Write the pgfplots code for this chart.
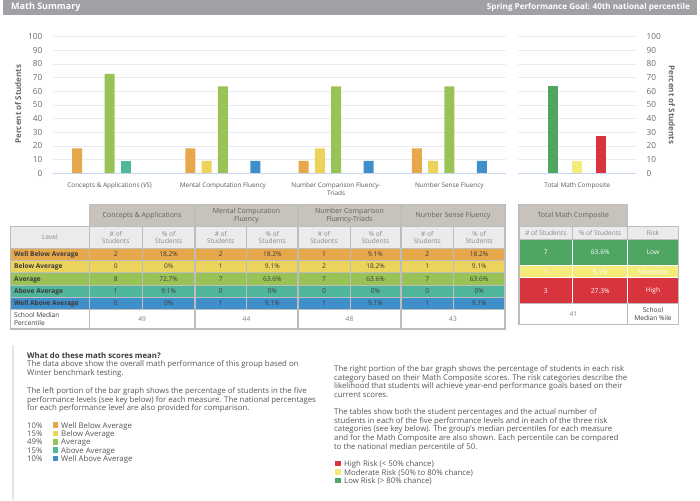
\documentclass[border=0pt]{standalone}
\usepackage{pgfplots}
\pgfplotsset{compat=1.18}
\usepackage{fontspec}
\setmainfont{Open Sans}
\definecolor{hdr}{HTML}{A0A1A4}
\definecolor{tick}{HTML}{6A6A6A}
\definecolor{gridc}{HTML}{E8EBF0}
\definecolor{zeroc}{HTML}{C6D6EC}
\definecolor{cOr}{HTML}{E6A84B}
\definecolor{cYe}{HTML}{EBD35C}
\definecolor{cGr}{HTML}{99C356}
\definecolor{cTe}{HTML}{4FB69C}
\definecolor{cBl}{HTML}{3F8FCA}
\definecolor{rG}{HTML}{4EA662}
\definecolor{rY}{HTML}{F5EB7A}
\definecolor{rR}{HTML}{D8343D}
\definecolor{thd}{HTML}{C8C2BC}
\definecolor{shd}{HTML}{EBEBEE}
\definecolor{bord}{HTML}{BDBDBD}
\definecolor{dk}{HTML}{3A3A3A}
\definecolor{body}{HTML}{555555}
\definecolor{sub}{HTML}{8A8A8A}
\begin{document}
\begin{tikzpicture}
\begin{scope}[x=1pt,y=1pt]
\useasboundingbox (0,0) rectangle (700,-500);
% ---------- header bar
\fill[hdr] (3,0) rectangle (697,-15);
\node[anchor=west, text=white, font=\fontsize{9}{9}\selectfont\bfseries, inner sep=0pt] at (11,-7.5) {Math Summary};
\node[anchor=east, text=white, font=\fontsize{8.1}{9}\selectfont\bfseries, inner sep=0pt] at (690,-7.5) {Spring Performance Goal: 40th national percentile};
\end{scope}
% ---------- left chart
\begin{axis}[
  at={(53pt,-173.3pt)}, anchor=south west, scale only axis,
  width=453pt, height=136.6pt,
  xmin=-0.5, xmax=3.5, ymin=0, ymax=100,
  axis line style={draw=none}, tick style={draw=none},
  ytick={0,10,...,100}, ymajorgrids, grid style={color=gridc, line width=0.7pt},
  xtick={0,1,2,3},
  xticklabels={{Concepts \& Applications (\textit{VS})},{Mental Computation Fluency},{Number Comparison Fluency-\\Triads},{Number Sense Fluency}},
  xticklabel style={font=\fontsize{6.4}{7.4}\selectfont, text=dk!85, align=center, yshift=-6.3pt},
  yticklabel style={font=\fontsize{8.3}{9}\selectfont, text=tick, xshift=-7pt},
  /pgf/number format/assume math mode=true,
  clip=false,
]
\addplot[ybar, bar width=10pt, bar shift=-32.6pt, fill=cOr, draw=none] coordinates {(0,18.2) (1,18.2) (2,9.1) (3,18.2)};
\addplot[ybar, bar width=10pt, bar shift=-16.3pt, fill=cYe, draw=none] coordinates {(1,9.1) (2,18.2) (3,9.1)};
\addplot[ybar, bar width=10pt, bar shift=0pt, fill=cGr, draw=none] coordinates {(0,72.7) (1,63.6) (2,63.6) (3,63.6)};
\addplot[ybar, bar width=10pt, bar shift=16.3pt, fill=cTe, draw=none] coordinates {(0,9.1)};
\addplot[ybar, bar width=10pt, bar shift=32.6pt, fill=cBl, draw=none] coordinates {(1,9.1) (2,9.1) (3,9.1)};
\draw[zeroc, line width=0.8pt] (rel axis cs:0,0) -- (rel axis cs:1,0);
\end{axis}
% ---------- right chart
\begin{axis}[
  at={(518.3pt,-173.3pt)}, anchor=south west, scale only axis,
  width=117.7pt, height=136.6pt,
  xmin=-1.48, xmax=3.48, ymin=0, ymax=100,
  axis line style={draw=none}, tick style={draw=none},
  ytick={0,10,...,100}, ymajorgrids, grid style={color=gridc, line width=0.7pt},
  yticklabel pos=right,
  xtick={1}, xticklabels={Total Math Composite},
  xticklabel style={font=\fontsize{6.4}{7.4}\selectfont, text=dk!85, align=center, yshift=-6.3pt},
  yticklabel style={font=\fontsize{8.3}{9}\selectfont, text=tick, xshift=7pt},
  /pgf/number format/assume math mode=true,
  clip=false,
]
\addplot[ybar, bar width=10pt, fill=rG, draw=none] coordinates {(0,63.6)};
\addplot[ybar, bar width=10pt, fill=rY, draw=none] coordinates {(1,9.1)};
\addplot[ybar, bar width=10pt, fill=rR, draw=none] coordinates {(2,27.3)};
\draw[zeroc, line width=0.8pt] (rel axis cs:0,0) -- (rel axis cs:1,0);
\end{axis}
\begin{scope}[x=1pt,y=1pt]
\node[rotate=90, text=tick, font=\fontsize{8}{9}\selectfont\bfseries] at (18,-104) {Percent of Students};
\node[rotate=-90, text=tick, font=\fontsize{8}{9}\selectfont\bfseries] at (672,-105) {Percent of Students};
% ---------- left table
\def\tf{\fontsize{6.6}{7.4}\selectfont}
\def\hf{\fontsize{7}{7.4}\selectfont}
\fill[thd] (89.3,-204.3) rectangle (505,-226.7);
\fill[shd] (10.7,-226.7) rectangle (505,-248);
\foreach \xa/\xb/\t in {89.3/195/{Concepts \& Applications},195/298/{Mental Computation\\Fluency},298/401/{Number Comparison\\Fluency-Triads},401/505/{Number Sense Fluency}}{
  \node[align=center, text=dk!80, font=\hf, inner sep=0pt] at ({(\xa+\xb)/2},-215.5) {\t};
}
\node[text=sub, font=\tf, inner sep=0pt] at (50,-237.35) {Level};
\foreach \xc/\t in {115.8/{\# of\\Students},168.65/{\% of\\Students},220.85/{\# of\\Students},272.35/{\% of\\Students},324/{\# of\\Students},375.5/{\% of\\Students},427.15/{\# of\\Students},479.15/{\% of\\Students}}{
  \node[align=center, text=sub, font=\tf, inner sep=0pt] at (\xc,-237.35) {\t};
}
\foreach \i/\c/\name/\va/\vb/\vc/\vd/\ve/\vf/\vg/\vh in {
 0/cOr/Well Below Average/2/18.2\%/2/18.2\%/1/9.1\%/2/18.2\%,
 1/cYe/Below Average/0/0\%/1/9.1\%/2/18.2\%/1/9.1\%,
 2/cGr/Average/8/72.7\%/7/63.6\%/7/63.6\%/7/63.6\%,
 3/cTe/Above Average/1/9.1\%/0/0\%/0/0\%/0/0\%,
 4/cBl/Well Above Average/0/0\%/1/9.1\%/1/9.1\%/1/9.1\%}{
  \pgfmathsetmacro\yt{248+12.3*\i}
  \pgfmathsetmacro\yb{\yt+12.3}
  \pgfmathsetmacro\yl{\yt+8.5}
  \fill[\c] (10.7,-\yt) rectangle (505,-\yb);
  \node[anchor=base west, text=dk, font=\tf\bfseries, inner sep=0pt] at (14,-\yl) {\name};
  \node[anchor=base, text=dk, font=\tf, inner sep=0pt] at (115.8,-\yl) {\va};
  \node[anchor=base, text=dk, font=\tf, inner sep=0pt] at (168.65,-\yl) {\vb};
  \node[anchor=base, text=dk, font=\tf, inner sep=0pt] at (220.85,-\yl) {\vc};
  \node[anchor=base, text=dk, font=\tf, inner sep=0pt] at (272.35,-\yl) {\vd};
  \node[anchor=base, text=dk, font=\tf, inner sep=0pt] at (324,-\yl) {\ve};
  \node[anchor=base, text=dk, font=\tf, inner sep=0pt] at (375.5,-\yl) {\vf};
  \node[anchor=base, text=dk, font=\tf, inner sep=0pt] at (427.15,-\yl) {\vg};
  \node[anchor=base, text=dk, font=\tf, inner sep=0pt] at (479.15,-\yl) {\vh};
}
\node[anchor=west, align=left, text=dk, font=\tf, inner sep=0pt] at (14,-319) {School Median\\Percentile};
\foreach \xc/\t in {142.15/49,246.5/44,349.5/48,453/43}{
  \node[text=sub!90!black, font=\tf, inner sep=0pt] at (\xc,-319.2) {\t};
}
% borders
\foreach \yy in {248,260.3,272.6,284.9,297.2,309.5}{\draw[bord, line width=0.6pt] (10.7,-\yy) -- (505,-\yy);}
\foreach \xx in {142.3,246.7,350,453.3}{\draw[bord, line width=0.6pt] (\xx,-226.7) -- (\xx,-309.5);}
\foreach \xx in {89.3,195,298,401}{\draw[bord, line width=1.1pt] (\xx,-204.3) -- (\xx,-329);}
\draw[bord, line width=1.1pt] (89.3,-226.7) -- (89.3,-204.3) -- (505,-204.3) -- (505,-329) -- (10.7,-329) -- (10.7,-226.7) -- cycle;
\draw[bord, line width=1.1pt] (10.7,-226.7) -- (505,-226.7);
% ---------- right table
\fill[thd] (519,-204.3) rectangle (627.7,-226.7);
\draw[bord, line width=1.1pt] (519,-204.3) rectangle (627.7,-226.7);
\node[text=dk!80, font=\hf, inner sep=0pt] at (573.35,-215.5) {Total Math Composite};
\fill[shd] (519,-226.7) rectangle (678.3,-239);
\node[text=sub, font=\tf, inner sep=0pt] at (545.85,-232.85) {\# of Students};
\node[text=sub, font=\tf, inner sep=0pt] at (600.2,-232.85) {\% of Students};
\node[text=sub, font=\tf, inner sep=0pt] at (653,-232.85) {Risk};
\foreach \ya/\yb/\c/\va/\vb/\vc in {239/265.7/rG/7/63.6\%/Low,265.7/277.7/rY/1/9.1\%/Moderate,277.7/303.7/rR/3/27.3\%/High}{
  \fill[\c] (519,-\ya) rectangle (678.3,-\yb);
  \node[text=white, font=\tf, inner sep=0pt] at (545.85,{-(\ya+\yb)/2}) {\va};
  \node[text=white, font=\tf, inner sep=0pt] at (600.2,{-(\ya+\yb)/2}) {\vb};
  \node[text=white, font=\tf, inner sep=0pt] at (653,{-(\ya+\yb)/2}) {\vc};
}
\draw[white, line width=1.4pt] (519,-265.7) -- (678.3,-265.7) (519,-277.7) -- (678.3,-277.7);
\draw[white, line width=1.4pt] (572.7,-239) -- (572.7,-303.7) (627.7,-239) -- (627.7,-303.7);
\draw[bord, line width=0.8pt] (572.7,-226.7) -- (572.7,-239) (627.7,-226.7) -- (627.7,-239) (519,-239) -- (678.3,-239);
\draw[bord, line width=0.8pt] (519,-303.7) -- (678.3,-303.7) (627.7,-303.7) -- (627.7,-324.3);
\draw[bord, line width=1.1pt] (519,-226.7) rectangle (678.3,-324.3);
\node[text=sub!90!black, font=\tf, inner sep=0pt] at (573.35,-314) {41};
\node[align=center, text=dk, font=\tf, inner sep=0pt] at (653,-314) {School\\Median \%ile};
% ---------- explanatory text
\fill[black!10] (12,-345) rectangle (14,-500);
\def\bf{\fontsize{7.8}{8.6}\selectfont}
\node[anchor=base west, inner sep=0pt, text=dk, font=\bf\bfseries] at (27,-358.3) {What do these math scores mean?};
\foreach \yy/\t in {366.9/{The data above show the overall math performance of this group based on},
  375.5/{Winter benchmark testing.},
  393.5/{The left portion of the bar graph shows the percentage of students in the five},
  402.1/{performance levels (see key below) for each measure. The national percentages},
  410.7/{for each performance level are also provided for comparison.}}{
  \node[anchor=base west, inner sep=0pt, text=body, font=\bf] at (27,-\yy) {\t};
}
\foreach \yy/\p/\c/\t in {428/10\%/cOr/Well Below Average,436.4/15\%/cYe/Below Average,444.8/49\%/cGr/Average,453.2/15\%/cTe/Above Average,461.6/10\%/cBl/Well Above Average}{
  \node[anchor=base west, inner sep=0pt, text=body, font=\bf] at (27,-\yy) {\p};
  \fill[\c] (52.5,{-\yy+0.3}) rectangle (58,{-\yy+5.8});
  \node[anchor=base west, inner sep=0pt, text=body, font=\bf] at (61,-\yy) {\t};
}
\foreach \yy/\t in {371.7/{The right portion of the bar graph shows the percentage of students in each risk},
  380.3/{category based on their Math Composite scores. The risk categories describe the},
  388.9/{likelihood that students will achieve year-end performance goals based on their},
  397.5/{current scores.},
  414.7/{The tables show both the student percentages and the actual number of},
  423.3/{students in each of the five performance levels and in each of the three risk},
  431.9/{categories (see key below). The group's median percentiles for each measure},
  440.5/{and for the Math Composite are also shown. Each percentile can be compared},
  449.1/{to the national median percentile of 50.}}{
  \node[anchor=base west, inner sep=0pt, text=body, font=\bf] at (334,-\yy) {\t};
}
\foreach \yy/\c/\t in {466.4/rR/{High Risk (< 50\% chance)},475/rY/{Moderate Risk (50\% to 80\% chance)},483.6/rG/{Low Risk (> 80\% chance)}}{
  \fill[\c] (335,{-\yy+0.3}) rectangle (340.5,{-\yy+5.8});
  \node[anchor=base west, inner sep=0pt, text=body, font=\bf] at (344,-\yy) {\t};
}
\end{scope}
\end{tikzpicture}
\end{document}
